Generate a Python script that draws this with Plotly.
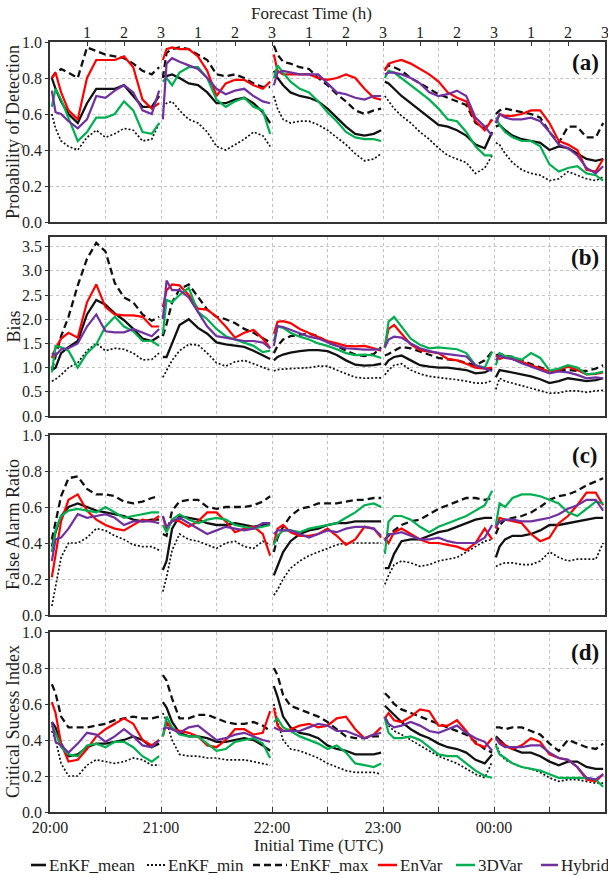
import plotly.graph_objects as go

# ---------------------------------------------------------------------------
# Forecast lead times (h) sampled within each 3-h forecast window
FCST_HOURS = [0.05, 0.15, 0.3, 0.5, 0.75, 1.0, 1.25, 1.5, 1.75, 2.0, 2.25, 2.5, 2.75, 2.95]
INIT_LABELS = ["20:00", "21:00", "22:00", "23:00", "00:00"]
FCST_TICK_LABELS = ["1", "2", "3"]
SERIES_NAMES = ["EnKF_mean", "EnKF_min", "EnKF_max", "EnVar", "3DVar", "Hybrid"]

# (a) Probability of Detection: one list per initial time
POD_MEAN = [
    [0.80, 0.74, 0.67, 0.60, 0.55, 0.66, 0.74, 0.74, 0.74, 0.76, 0.70, 0.64, 0.64, 0.70],
    [0.81, 0.81, 0.82, 0.80, 0.77, 0.76, 0.72, 0.66, 0.66, 0.68, 0.69, 0.66, 0.61, 0.55],
    [0.84, 0.80, 0.76, 0.72, 0.70, 0.69, 0.67, 0.63, 0.58, 0.53, 0.49, 0.48, 0.49, 0.51],
    [0.78, 0.77, 0.74, 0.70, 0.66, 0.62, 0.58, 0.54, 0.53, 0.51, 0.48, 0.43, 0.41, 0.50],
    [0.53, 0.54, 0.51, 0.48, 0.46, 0.45, 0.44, 0.40, 0.42, 0.41, 0.38, 0.35, 0.34, 0.35],
]
POD_MIN = [
    [0.60, 0.52, 0.45, 0.42, 0.40, 0.47, 0.51, 0.47, 0.49, 0.52, 0.51, 0.45, 0.46, 0.55],
    [0.64, 0.66, 0.67, 0.62, 0.57, 0.55, 0.50, 0.42, 0.40, 0.43, 0.46, 0.50, 0.48, 0.42],
    [0.70, 0.63, 0.57, 0.55, 0.56, 0.56, 0.54, 0.51, 0.47, 0.43, 0.38, 0.34, 0.35, 0.38],
    [0.70, 0.67, 0.63, 0.59, 0.55, 0.50, 0.46, 0.41, 0.37, 0.35, 0.33, 0.27, 0.30, 0.37],
    [0.44, 0.43, 0.38, 0.33, 0.29, 0.27, 0.26, 0.23, 0.24, 0.28, 0.26, 0.24, 0.23, 0.25],
]
POD_MAX = [
    [0.80, 0.83, 0.85, 0.83, 0.80, 0.97, 0.95, 0.93, 0.92, 0.91, 0.88, 0.84, 0.82, 0.86],
    [0.80, 0.94, 0.96, 0.97, 0.96, 0.93, 0.90, 0.82, 0.81, 0.82, 0.80, 0.77, 0.75, 0.75],
    [0.98, 0.93, 0.89, 0.88, 0.86, 0.85, 0.80, 0.76, 0.71, 0.67, 0.62, 0.60, 0.62, 0.63],
    [0.85, 0.87, 0.86, 0.84, 0.80, 0.77, 0.74, 0.71, 0.69, 0.67, 0.65, 0.55, 0.52, 0.57],
    [0.60, 0.62, 0.63, 0.62, 0.61, 0.60, 0.58, 0.50, 0.44, 0.53, 0.53, 0.47, 0.47, 0.55],
]
POD_ENVAR = [
    [0.80, 0.83, 0.72, 0.62, 0.57, 0.80, 0.90, 0.90, 0.90, 0.92, 0.86, 0.68, 0.63, 0.66],
    [0.90, 0.96, 0.97, 0.96, 0.96, 0.92, 0.84, 0.70, 0.77, 0.79, 0.79, 0.76, 0.74, 0.78],
    [0.93, 0.84, 0.82, 0.82, 0.82, 0.82, 0.80, 0.79, 0.80, 0.82, 0.80, 0.74, 0.69, 0.68],
    [0.84, 0.88, 0.89, 0.90, 0.88, 0.85, 0.82, 0.78, 0.72, 0.69, 0.67, 0.56, 0.51, 0.57],
    [0.55, 0.60, 0.59, 0.59, 0.60, 0.62, 0.62, 0.55, 0.45, 0.43, 0.40, 0.29, 0.28, 0.35],
]
POD_3DVAR = [
    [0.64, 0.74, 0.68, 0.58, 0.45, 0.50, 0.58, 0.58, 0.60, 0.67, 0.62, 0.50, 0.49, 0.55],
    [0.78, 0.80, 0.76, 0.83, 0.86, 0.86, 0.80, 0.68, 0.64, 0.67, 0.69, 0.64, 0.62, 0.49],
    [0.80, 0.87, 0.83, 0.78, 0.74, 0.72, 0.67, 0.61, 0.56, 0.50, 0.47, 0.46, 0.46, 0.45],
    [0.80, 0.84, 0.83, 0.80, 0.76, 0.72, 0.68, 0.63, 0.57, 0.56, 0.50, 0.42, 0.37, 0.37],
    [0.58, 0.54, 0.50, 0.47, 0.45, 0.45, 0.42, 0.32, 0.28, 0.30, 0.31, 0.27, 0.26, 0.23],
]
POD_HYBRID = [
    [0.73, 0.61, 0.60, 0.56, 0.52, 0.57, 0.70, 0.69, 0.73, 0.76, 0.72, 0.62, 0.60, 0.73],
    [0.57, 0.88, 0.91, 0.89, 0.87, 0.85, 0.80, 0.74, 0.71, 0.73, 0.74, 0.70, 0.67, 0.66],
    [0.76, 0.83, 0.84, 0.83, 0.82, 0.82, 0.82, 0.77, 0.72, 0.71, 0.69, 0.68, 0.70, 0.70],
    [0.82, 0.83, 0.83, 0.82, 0.80, 0.77, 0.72, 0.70, 0.71, 0.73, 0.70, 0.58, 0.53, 0.48],
    [0.55, 0.60, 0.58, 0.57, 0.57, 0.58, 0.56, 0.50, 0.43, 0.41, 0.37, 0.30, 0.27, 0.31],
]

# (b) Bias
BIAS_MEAN = [
    [0.95, 1.00, 1.30, 1.42, 1.55, 2.10, 2.40, 2.30, 2.12, 1.98, 1.80, 1.60, 1.55, 1.65],
    [1.22, 1.22, 1.50, 1.88, 2.00, 1.82, 1.70, 1.52, 1.48, 1.46, 1.43, 1.35, 1.25, 1.18],
    [1.15, 1.22, 1.27, 1.31, 1.34, 1.36, 1.36, 1.34, 1.26, 1.15, 1.06, 1.04, 1.05, 1.08],
    [1.05, 1.15, 1.22, 1.25, 1.15, 1.05, 1.02, 1.00, 1.00, 0.98, 0.95, 0.88, 0.90, 0.98],
    [0.80, 0.95, 0.93, 0.90, 0.86, 0.82, 0.76, 0.68, 0.72, 0.78, 0.75, 0.72, 0.74, 0.78],
]
BIAS_MIN = [
    [0.72, 0.76, 0.85, 1.00, 1.10, 1.35, 1.50, 1.35, 1.40, 1.38, 1.30, 1.16, 1.17, 1.30],
    [0.80, 0.95, 1.15, 1.35, 1.48, 1.47, 1.30, 1.10, 1.03, 1.12, 1.15, 1.08, 1.00, 0.95],
    [0.93, 0.96, 0.97, 0.98, 0.99, 1.00, 1.03, 1.03, 0.95, 0.88, 0.80, 0.78, 0.79, 0.79],
    [0.85, 0.95, 1.05, 1.08, 0.95, 0.87, 0.82, 0.80, 0.78, 0.75, 0.72, 0.68, 0.68, 0.73],
    [0.55, 0.78, 0.72, 0.68, 0.63, 0.57, 0.52, 0.47, 0.48, 0.52, 0.52, 0.49, 0.52, 0.53],
]
BIAS_MAX = [
    [0.95, 1.25, 1.65, 2.05, 2.70, 3.25, 3.58, 3.40, 2.75, 2.45, 2.35, 2.10, 1.97, 2.05],
    [1.65, 1.90, 2.35, 2.62, 2.72, 2.45, 2.20, 2.05, 2.00, 1.92, 1.80, 1.72, 1.60, 1.52],
    [1.30, 1.45, 1.58, 1.65, 1.68, 1.70, 1.65, 1.52, 1.45, 1.35, 1.27, 1.24, 1.28, 1.42],
    [1.25, 1.28, 1.35, 1.43, 1.40, 1.33, 1.27, 1.20, 1.17, 1.15, 1.10, 1.05, 1.15, 1.33],
    [1.25, 1.28, 1.25, 1.22, 1.15, 1.08, 1.00, 0.93, 0.95, 0.95, 0.93, 0.93, 0.98, 1.05],
]
BIAS_ENVAR = [
    [1.20, 1.40, 1.60, 1.72, 1.62, 2.35, 2.72, 2.25, 2.10, 2.08, 2.08, 2.05, 1.85, 1.85],
    [2.25, 2.60, 2.72, 2.70, 2.50, 2.22, 2.20, 2.05, 1.85, 1.62, 1.72, 1.78, 1.60, 1.40],
    [1.70, 1.95, 1.96, 1.92, 1.80, 1.72, 1.64, 1.55, 1.50, 1.45, 1.44, 1.45, 1.40, 1.35],
    [1.45, 1.80, 1.88, 1.70, 1.48, 1.36, 1.33, 1.30, 1.18, 1.15, 1.08, 1.00, 0.98, 1.00],
    [1.25, 1.18, 1.22, 1.18, 1.12, 1.05, 0.98, 0.92, 0.95, 1.02, 0.95, 0.86, 0.87, 0.90],
]
BIAS_3DVAR = [
    [0.90, 1.45, 1.42, 1.35, 1.00, 1.30, 1.48, 1.85, 2.05, 1.85, 1.75, 1.55, 1.55, 1.45],
    [1.70, 2.40, 2.35, 2.50, 2.65, 2.15, 2.00, 1.80, 1.65, 1.58, 1.52, 1.45, 1.32, 1.35],
    [1.55, 1.85, 1.82, 1.72, 1.64, 1.58, 1.50, 1.45, 1.38, 1.30, 1.26, 1.27, 1.25, 1.20],
    [1.40, 1.95, 2.05, 1.85, 1.60, 1.47, 1.40, 1.42, 1.40, 1.38, 1.30, 1.05, 1.00, 1.33],
    [1.05, 1.30, 1.24, 1.22, 1.16, 1.30, 1.20, 0.94, 0.98, 1.05, 1.00, 0.86, 0.88, 0.92],
]
BIAS_HYBRID = [
    [1.30, 1.25, 1.38, 1.40, 1.50, 1.85, 2.10, 1.75, 1.73, 1.73, 1.80, 1.72, 1.65, 1.80],
    [2.00, 2.80, 2.60, 2.60, 2.45, 2.15, 1.85, 1.65, 1.62, 1.58, 1.55, 1.55, 1.52, 1.40],
    [1.45, 1.86, 1.84, 1.78, 1.70, 1.64, 1.60, 1.52, 1.45, 1.40, 1.38, 1.37, 1.37, 1.38],
    [1.42, 1.58, 1.64, 1.62, 1.50, 1.40, 1.34, 1.30, 1.28, 1.26, 1.23, 1.05, 0.98, 0.93],
    [1.15, 1.25, 1.20, 1.18, 1.09, 1.02, 0.95, 0.88, 0.92, 0.90, 0.85, 0.78, 0.80, 0.78],
]

# (c) False Alarm Ratio
FAR_MEAN = [
    [0.38, 0.46, 0.55, 0.60, 0.62, 0.60, 0.58, 0.57, 0.56, 0.55, 0.53, 0.52, 0.53, 0.53],
    [0.25, 0.30, 0.48, 0.55, 0.54, 0.53, 0.51, 0.50, 0.50, 0.51, 0.50, 0.49, 0.50, 0.51],
    [0.22, 0.27, 0.35, 0.41, 0.45, 0.47, 0.48, 0.50, 0.51, 0.51, 0.52, 0.52, 0.52, 0.52],
    [0.26, 0.26, 0.34, 0.41, 0.42, 0.42, 0.44, 0.46, 0.47, 0.49, 0.51, 0.53, 0.54, 0.54],
    [0.32, 0.38, 0.42, 0.44, 0.44, 0.45, 0.47, 0.50, 0.50, 0.51, 0.52, 0.53, 0.54, 0.54],
]
FAR_MIN = [
    [0.05, 0.15, 0.32, 0.40, 0.40, 0.43, 0.48, 0.47, 0.44, 0.42, 0.39, 0.38, 0.38, 0.36],
    [0.13, 0.21, 0.36, 0.45, 0.42, 0.41, 0.39, 0.37, 0.40, 0.41, 0.38, 0.37, 0.41, 0.39],
    [0.11, 0.14, 0.20, 0.26, 0.30, 0.33, 0.35, 0.37, 0.39, 0.40, 0.40, 0.40, 0.40, 0.40],
    [0.17, 0.22, 0.28, 0.30, 0.29, 0.27, 0.28, 0.30, 0.31, 0.32, 0.35, 0.38, 0.41, 0.42],
    [0.27, 0.28, 0.29, 0.29, 0.28, 0.28, 0.30, 0.35, 0.32, 0.30, 0.31, 0.31, 0.31, 0.40],
]
FAR_MAX = [
    [0.42, 0.52, 0.66, 0.76, 0.77, 0.70, 0.67, 0.67, 0.66, 0.63, 0.62, 0.63, 0.65, 0.66],
    [0.45, 0.44, 0.58, 0.63, 0.64, 0.64, 0.60, 0.59, 0.60, 0.60, 0.60, 0.61, 0.63, 0.66],
    [0.35, 0.43, 0.49, 0.55, 0.59, 0.60, 0.62, 0.62, 0.62, 0.63, 0.64, 0.64, 0.65, 0.65],
    [0.42, 0.44, 0.47, 0.50, 0.52, 0.53, 0.56, 0.59, 0.61, 0.63, 0.65, 0.65, 0.64, 0.65],
    [0.45, 0.50, 0.53, 0.54, 0.55, 0.57, 0.60, 0.64, 0.66, 0.67, 0.69, 0.72, 0.74, 0.76],
]
FAR_ENVAR = [
    [0.21, 0.33, 0.52, 0.64, 0.67, 0.58, 0.53, 0.50, 0.48, 0.47, 0.50, 0.53, 0.52, 0.55],
    [0.55, 0.47, 0.53, 0.52, 0.49, 0.52, 0.57, 0.57, 0.52, 0.46, 0.48, 0.49, 0.45, 0.33],
    [0.40, 0.48, 0.50, 0.46, 0.44, 0.44, 0.45, 0.48, 0.44, 0.39, 0.42, 0.49, 0.48, 0.43],
    [0.43, 0.40, 0.46, 0.48, 0.45, 0.42, 0.40, 0.40, 0.39, 0.38, 0.36, 0.40, 0.48, 0.42],
    [0.48, 0.54, 0.53, 0.52, 0.51, 0.45, 0.41, 0.43, 0.51, 0.55, 0.61, 0.68, 0.68, 0.61],
]
FAR_3DVAR = [
    [0.35, 0.47, 0.55, 0.58, 0.59, 0.58, 0.57, 0.60, 0.57, 0.54, 0.55, 0.56, 0.57, 0.57],
    [0.50, 0.46, 0.53, 0.56, 0.53, 0.51, 0.53, 0.54, 0.53, 0.50, 0.49, 0.48, 0.49, 0.50],
    [0.39, 0.44, 0.47, 0.47, 0.46, 0.48, 0.49, 0.50, 0.51, 0.54, 0.57, 0.61, 0.62, 0.60],
    [0.34, 0.52, 0.55, 0.55, 0.53, 0.49, 0.46, 0.49, 0.51, 0.53, 0.55, 0.58, 0.61, 0.69],
    [0.50, 0.62, 0.60, 0.65, 0.67, 0.67, 0.66, 0.64, 0.62, 0.57, 0.55, 0.59, 0.63, 0.62],
]
FAR_HYBRID = [
    [0.30, 0.42, 0.43, 0.48, 0.56, 0.54, 0.55, 0.56, 0.54, 0.50, 0.52, 0.52, 0.52, 0.51],
    [0.55, 0.49, 0.52, 0.54, 0.51, 0.48, 0.45, 0.47, 0.49, 0.48, 0.47, 0.48, 0.51, 0.51],
    [0.45, 0.47, 0.47, 0.47, 0.45, 0.43, 0.45, 0.47, 0.46, 0.48, 0.49, 0.49, 0.48, 0.44],
    [0.41, 0.45, 0.45, 0.46, 0.44, 0.42, 0.42, 0.43, 0.41, 0.40, 0.40, 0.40, 0.43, 0.50],
    [0.49, 0.52, 0.53, 0.53, 0.52, 0.52, 0.53, 0.54, 0.56, 0.59, 0.61, 0.64, 0.64, 0.58],
]

# (d) Critical Success Index
CSI_MEAN = [
    [0.50, 0.47, 0.38, 0.31, 0.32, 0.36, 0.38, 0.38, 0.39, 0.40, 0.42, 0.40, 0.36, 0.38],
    [0.61, 0.58, 0.50, 0.44, 0.42, 0.42, 0.41, 0.39, 0.39, 0.40, 0.41, 0.40, 0.37, 0.34],
    [0.70, 0.64, 0.53, 0.47, 0.44, 0.43, 0.41, 0.37, 0.35, 0.34, 0.32, 0.32, 0.32, 0.33],
    [0.59, 0.57, 0.54, 0.50, 0.46, 0.43, 0.41, 0.38, 0.36, 0.35, 0.33, 0.29, 0.27, 0.32],
    [0.42, 0.40, 0.37, 0.35, 0.33, 0.33, 0.31, 0.28, 0.26, 0.28, 0.28, 0.25, 0.24, 0.24],
]
CSI_MIN = [
    [0.45, 0.40, 0.27, 0.20, 0.20, 0.26, 0.29, 0.28, 0.27, 0.28, 0.30, 0.29, 0.26, 0.26],
    [0.55, 0.50, 0.40, 0.32, 0.31, 0.31, 0.30, 0.30, 0.29, 0.29, 0.29, 0.28, 0.27, 0.26],
    [0.60, 0.50, 0.40, 0.35, 0.34, 0.32, 0.30, 0.27, 0.25, 0.23, 0.22, 0.22, 0.22, 0.21],
    [0.52, 0.48, 0.45, 0.43, 0.40, 0.37, 0.34, 0.31, 0.29, 0.27, 0.24, 0.21, 0.19, 0.28],
    [0.38, 0.33, 0.29, 0.27, 0.25, 0.24, 0.22, 0.19, 0.17, 0.18, 0.18, 0.17, 0.16, 0.16],
]
CSI_MAX = [
    [0.71, 0.66, 0.53, 0.47, 0.47, 0.47, 0.48, 0.49, 0.51, 0.52, 0.53, 0.52, 0.52, 0.53],
    [0.76, 0.73, 0.63, 0.52, 0.52, 0.54, 0.54, 0.52, 0.50, 0.49, 0.49, 0.50, 0.48, 0.45],
    [0.80, 0.76, 0.65, 0.59, 0.57, 0.55, 0.53, 0.50, 0.46, 0.42, 0.41, 0.41, 0.42, 0.42],
    [0.66, 0.64, 0.60, 0.57, 0.55, 0.53, 0.51, 0.49, 0.47, 0.45, 0.43, 0.39, 0.35, 0.33],
    [0.47, 0.47, 0.46, 0.47, 0.47, 0.45, 0.43, 0.38, 0.34, 0.40, 0.38, 0.36, 0.35, 0.38],
]
CSI_ENVAR = [
    [0.61, 0.55, 0.38, 0.28, 0.29, 0.35, 0.42, 0.46, 0.49, 0.52, 0.49, 0.40, 0.37, 0.40],
    [0.42, 0.50, 0.46, 0.45, 0.44, 0.42, 0.37, 0.36, 0.40, 0.46, 0.46, 0.43, 0.44, 0.56],
    [0.58, 0.48, 0.45, 0.46, 0.48, 0.49, 0.47, 0.48, 0.52, 0.53, 0.46, 0.41, 0.43, 0.47],
    [0.52, 0.55, 0.51, 0.50, 0.53, 0.57, 0.56, 0.48, 0.48, 0.51, 0.45, 0.38, 0.36, 0.41],
    [0.41, 0.39, 0.37, 0.35, 0.37, 0.41, 0.39, 0.32, 0.30, 0.29, 0.25, 0.18, 0.17, 0.21],
]
CSI_3DVAR = [
    [0.48, 0.44, 0.36, 0.32, 0.31, 0.37, 0.38, 0.36, 0.39, 0.39, 0.36, 0.31, 0.28, 0.31],
    [0.42, 0.53, 0.47, 0.43, 0.42, 0.42, 0.38, 0.34, 0.35, 0.39, 0.40, 0.41, 0.38, 0.30],
    [0.50, 0.52, 0.47, 0.45, 0.42, 0.40, 0.38, 0.35, 0.37, 0.33, 0.27, 0.26, 0.25, 0.27],
    [0.52, 0.44, 0.41, 0.41, 0.42, 0.40, 0.36, 0.32, 0.31, 0.31, 0.27, 0.23, 0.20, 0.19],
    [0.37, 0.32, 0.30, 0.27, 0.25, 0.24, 0.23, 0.21, 0.19, 0.19, 0.19, 0.19, 0.18, 0.14],
]
CSI_HYBRID = [
    [0.50, 0.39, 0.37, 0.33, 0.38, 0.44, 0.43, 0.39, 0.42, 0.46, 0.42, 0.37, 0.36, 0.40],
    [0.46, 0.47, 0.46, 0.44, 0.47, 0.48, 0.44, 0.40, 0.41, 0.43, 0.44, 0.42, 0.40, 0.39],
    [0.47, 0.46, 0.45, 0.45, 0.45, 0.47, 0.49, 0.48, 0.45, 0.45, 0.43, 0.41, 0.43, 0.44],
    [0.53, 0.49, 0.47, 0.48, 0.50, 0.48, 0.45, 0.44, 0.46, 0.48, 0.44, 0.41, 0.39, 0.34],
    [0.41, 0.38, 0.36, 0.36, 0.36, 0.37, 0.37, 0.33, 0.30, 0.29, 0.25, 0.19, 0.18, 0.21],
]

# ---------------------------------------------------------------------------
FONT = "Liberation Serif"
TEXT = "#1e1e1e"
W, H = 608, 875
ML, MR, MT, MB = 50, 3, 42, 63
PLOT_W = W - ML - MR
PLOT_H = H - MT - MB
FRAME = "#333333"
GRID = "#c4c4c4"

STYLES = {
    "EnKF_mean": dict(color="#111111", width=2.3, dash="solid"),
    "EnKF_min": dict(color="#111111", width=1.7, dash="2px,2px"),
    "EnKF_max": dict(color="#111111", width=2.3, dash="7px,4px"),
    "EnVar": dict(color="#ff0000", width=2.2, dash="solid"),
    "3DVar": dict(color="#00b050", width=2.2, dash="solid"),
    "Hybrid": dict(color="#7030a0", width=2.2, dash="solid"),
}


def ypaper(pix):
    return 1 - (pix - MT) / PLOT_H


def xpaper(pix):
    return (pix - ML) / PLOT_W


# label, y-title, y-range, tick step, series, top pixel, bottom pixel
PANELS = [
    ("(a)", "Probability of Detection", [0, 1.0], 0.2,
     [POD_MEAN, POD_MIN, POD_MAX, POD_ENVAR, POD_3DVAR, POD_HYBRID], 42, 222),
    ("(b)", "Bias", [0, 3.7], 0.5,
     [BIAS_MEAN, BIAS_MIN, BIAS_MAX, BIAS_ENVAR, BIAS_3DVAR, BIAS_HYBRID], 237, 416),
    ("(c)", "False Alarm Ratio", [0, 1.0], 0.2,
     [FAR_MEAN, FAR_MIN, FAR_MAX, FAR_ENVAR, FAR_3DVAR, FAR_HYBRID], 435, 615),
    ("(d)", "Critical Sucess Index", [0, 1.0], 0.2,
     [CSI_MEAN, CSI_MIN, CSI_MAX, CSI_ENVAR, CSI_3DVAR, CSI_HYBRID], 632, 812),
]

half_hours = [i * 0.5 for i in range(11)]
half_hour_text = [INIT_LABELS[int(v)] if (v == int(v) and int(v) < len(INIT_LABELS)) else "" for v in half_hours]

fig = go.Figure()
layout = dict(
    width=W, height=H,
    margin=dict(l=ML, r=MR, t=MT, b=MB, pad=0),
    paper_bgcolor="white", plot_bgcolor="white",
    font=dict(family=FONT, size=16, color=TEXT),
    showlegend=False,
)
annotations = []
shapes = []

for p, (tag, ytitle, yrange, dtick, series_list, top, bottom) in enumerate(PANELS):
    n = p + 1
    xname = "x" if n == 1 else f"x{n}"
    yname = "y" if n == 1 else f"y{n}"
    for name, series in zip(SERIES_NAMES, series_list):
        xs, ys = [], []
        for k, seg in enumerate(series):
            xs += [k + t / 3.0 for t in FCST_HOURS] + [None]
            ys += list(seg) + [None]
        st = STYLES[name]
        fig.add_trace(go.Scatter(
            x=xs, y=ys, mode="lines", name=name, xaxis=xname, yaxis=yname,
            line=dict(color=st["color"], width=st["width"], dash=st["dash"]),
            connectgaps=False, hoverinfo="skip",
        ))
    last = n == len(PANELS)
    layout[f"xaxis{'' if n == 1 else n}"] = dict(
        domain=[0, 1], anchor=yname, range=[0, 5],
        tickmode="array", tickvals=half_hours, ticktext=half_hour_text,
        showticklabels=last, ticks="inside" if last else "", ticklen=5,
        tickcolor=FRAME, tickfont=dict(size=16, family=FONT, color=TEXT),
        showline=True, mirror=True, linecolor=FRAME, linewidth=1.7,
        showgrid=True, gridcolor=GRID, griddash="dot", gridwidth=1,
        zeroline=False, automargin=False,
    )
    layout[f"yaxis{'' if n == 1 else n}"] = dict(
        domain=[ypaper(bottom), ypaper(top)], anchor=xname, range=yrange,
        tick0=0, dtick=dtick, tickformat=".1f",
        ticks="outside", ticklen=3, tickcolor=FRAME,
        tickfont=dict(size=16, family=FONT, color=TEXT),
        showline=True, mirror=True, linecolor=FRAME, linewidth=1.7,
        showgrid=True, gridcolor=GRID, griddash="dot", gridwidth=1,
        zeroline=False, automargin=False,
    )
    annotations.append(dict(
        text=ytitle, xref="paper", yref="paper", x=xpaper(13),
        y=(ypaper(top) + ypaper(bottom)) / 2, textangle=-90,
        showarrow=False, xanchor="center", yanchor="middle",
        font=dict(size=18, family=FONT, color=TEXT),
    ))
    annotations.append(dict(
        text=f"<b>{tag}</b>", xref="paper", yref="paper", x=xpaper(585),
        y=ypaper(top + 20), showarrow=False, xanchor="center", yanchor="middle",
        font=dict(size=23, family=FONT, color="#111111"),
    ))

# Forecast lead-time axis along the top of panel (a)
fcst_vals, fcst_text = [], []
for k in range(len(INIT_LABELS)):
    for j, lab in enumerate(FCST_TICK_LABELS):
        fcst_vals.append(k + (j + 1) / 3.0)
        fcst_text.append(lab)
layout["xaxis5"] = dict(
    overlaying="x", side="top", anchor="y", range=[0, 5],
    tickmode="array", tickvals=fcst_vals, ticktext=fcst_text,
    ticks="inside", ticklen=4, tickcolor=FRAME,
    tickfont=dict(size=16, family=FONT, color=TEXT),
    ticklabeloverflow="allow",
    showgrid=False, showline=False, zeroline=False, automargin=False,
)
fig.add_trace(go.Scatter(x=[None], y=[None], xaxis="x5", yaxis="y",
                         mode="lines", showlegend=False, hoverinfo="skip"))

annotations.append(dict(
    text="Forecast Time (h)", xref="paper", yref="paper", x=xpaper(311),
    y=ypaper(14), showarrow=False, xanchor="center", yanchor="middle",
    font=dict(size=17, family=FONT, color=TEXT),
))
annotations.append(dict(
    text="Initial Time (UTC)", xref="paper", yref="paper", x=xpaper(318),
    y=ypaper(846), showarrow=False, xanchor="center", yanchor="middle",
    font=dict(size=17, family=FONT, color=TEXT),
))

# Legend row drawn beneath the bottom axis
LEGEND_Y = 865
legend_items = [
    ("EnKF_mean", 31, 46, 47),
    ("EnKF_min", 147, 165, 166),
    ("EnKF_max", 253, 287, 288),
    ("EnVar", 378, 397, 398),
    ("3DVar", 456, 475, 476),
    ("Hybrid", 541, 558, 559),
]
for name, x0, x1, xt in legend_items:
    st = STYLES[name]
    shapes.append(dict(
        type="line", xref="paper", yref="paper",
        x0=xpaper(x0), x1=xpaper(x1), y0=ypaper(LEGEND_Y), y1=ypaper(LEGEND_Y),
        line=dict(color=st["color"], width=st["width"] + 0.3, dash=st["dash"]),
    ))
    annotations.append(dict(
        text=name, xref="paper", yref="paper", x=xpaper(xt), y=ypaper(LEGEND_Y),
        showarrow=False, xanchor="left", yanchor="middle",
        font=dict(size=17, family=FONT, color=TEXT),
    ))

layout["annotations"] = annotations
layout["shapes"] = shapes
fig.update_layout(**layout)

fig.write_html("out.html")
